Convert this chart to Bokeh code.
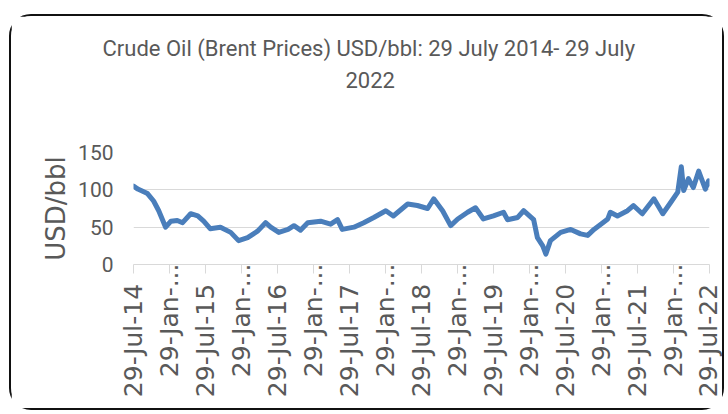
import pandas as pd
from math import pi
from bokeh.plotting import figure
from bokeh.models import Range1d, FixedTicker, Title, LinearAxis
from bokeh.embed import file_html
from bokeh.resources import INLINE

# ---------------- data ----------------
dates = [
    "2014-07-29", "2014-08-20", "2014-10-08", "2014-11-08", "2014-12-04", "2015-01-08",
    "2015-02-04", "2015-03-08", "2015-04-04", "2015-05-15", "2015-06-20", "2015-07-20",
    "2015-08-22", "2015-10-13", "2015-12-04", "2016-01-13", "2016-02-28", "2016-04-20",
    "2016-05-29", "2016-06-24", "2016-08-04", "2016-09-20", "2016-10-20", "2016-11-22",
    "2016-12-29", "2017-03-04", "2017-04-24", "2017-05-29", "2017-06-22", "2017-08-20",
    "2017-10-09", "2017-11-29", "2018-01-29", "2018-03-08", "2018-05-20", "2018-07-08",
    "2018-08-29", "2018-09-29", "2018-11-13", "2018-12-24", "2019-01-29", "2019-03-20",
    "2019-04-29", "2019-06-08", "2019-07-29", "2019-09-18", "2019-10-08", "2019-11-29",
    "2019-12-29", "2020-02-18", "2020-03-08", "2020-04-04", "2020-04-20", "2020-05-13",
    "2020-07-04", "2020-08-24", "2020-10-13", "2020-11-18", "2020-12-20", "2021-02-28",
    "2021-03-13", "2021-04-18", "2021-06-08", "2021-07-08", "2021-08-22", "2021-10-20",
    "2021-12-04", "2022-01-13", "2022-02-18", "2022-03-08", "2022-03-20", "2022-04-13",
    "2022-05-08", "2022-06-04", "2022-07-08", "2022-07-24", "2022-07-29",
]
prices = [
    105, 101, 95, 85, 72, 50,
    58, 59, 56, 68, 65, 58,
    48, 50, 43, 32, 36, 45,
    56, 50, 43, 47, 52, 46,
    56, 58, 54, 60, 47, 50,
    56, 63, 72, 65, 81, 79,
    75, 88, 72, 52, 61, 70,
    76, 61, 65, 70, 60, 63,
    72, 60, 36, 25, 14, 32,
    43, 47, 41, 39, 47, 61,
    70, 65, 72, 79, 68, 88,
    68, 83, 97, 131, 99, 115,
    103, 125, 101, 112, 108,
]

tick_dates = [
    "2014-07-29", "2015-01-29", "2015-07-29", "2016-01-29", "2016-07-29", "2017-01-29",
    "2017-07-29", "2018-01-29", "2018-07-29", "2019-01-29", "2019-07-29", "2020-01-29",
    "2020-07-29", "2021-01-29", "2021-07-29", "2022-01-29", "2022-07-29",
]
tick_labels = [
    "29-Jul-14", "29-Jan-...", "29-Jul-15", "29-Jan-...", "29-Jul-16", "29-Jan-...",
    "29-Jul-17", "29-Jan-...", "29-Jul-18", "29-Jan-...", "29-Jul-19", "29-Jan-...",
    "29-Jul-20", "29-Jan-...", "29-Jul-21", "29-Jan-...", "29-Jul-22",
]
y_ticks = [0, 50, 100, 150]
title_lines = ["Crude Oil (Brent Prices) USD/bbl:  29 July 2014- 29 July", "2022"]
y_label = "USD/bbl"

# ---------------- styling constants ----------------
GREY = "#595959"
GRID = "#d9d9d9"
BLUE = "#4a7ebb"
TFONT = "Roboto"
W, H = 715, 396
JUL_PAD = "\u2002\u00a0"   # pushes the full "Jul" labels further from the axis


def ms(d):
    return pd.Timestamp(d).value / 1e6


x_vals = [ms(d) for d in dates]
tick_ms = [ms(d) for d in tick_dates]

p = figure(
    width=W, height=H, output_backend="svg", toolbar_location=None,
    x_axis_type="datetime",
    x_range=Range1d(tick_ms[0], tick_ms[-1]),
    y_range=Range1d(0, 150),
    min_border_left=122, min_border_right=17, min_border_top=136, min_border_bottom=148,
    styles={"border": "2px solid #111111", "border-radius": "22px",
            "margin-top": "14px", "margin-left": "9px"},
)
p.outline_line_color = None
p.background_fill_color = "white"
p.border_fill_color = "white"

# invisible spacer axis between the plot area and the title lines
spacer = LinearAxis(ticker=FixedTicker(ticks=[tick_ms[0]]), axis_line_color=None,
                    major_tick_line_color=None, minor_tick_line_color=None,
                    major_tick_out=60, major_tick_in=0, major_label_standoff=0,
                    major_label_overrides={tick_ms[0]: ""},
                    major_label_text_font_size="1px")
p.add_layout(spacer, "above")

# two-line title
p.title.text = title_lines[0]
p.title.align = "left"
p.title.offset = -31
p.title.text_font = TFONT
p.title.text_font_size = "22px"
p.title.text_font_style = "normal"
p.title.text_color = GREY
p.title.standoff = 8
p.add_layout(Title(text=title_lines[1], align="left", offset=212, text_font=TFONT,
                   text_font_size="22px", text_font_style="normal",
                   text_color=GREY, standoff=10), "above")

# grid
p.xgrid.grid_line_color = None
p.ygrid.grid_line_color = GRID
p.ygrid.grid_line_width = 1
p.ygrid.ticker = FixedTicker(ticks=y_ticks)

# x axis
xa = p.below[0]
xa.ticker = FixedTicker(ticks=tick_ms)
xa.major_label_overrides = {
    t: (l + JUL_PAD if "Jul" in l else l) for t, l in zip(tick_ms, tick_labels)
}
xa.major_label_orientation = pi / 2
xa.major_label_text_font = "DejaVu Sans"
xa.major_label_text_font_size = "25px"
xa.major_label_text_color = GREY
xa.major_label_standoff = -10
xa.axis_line_color = GRID
xa.major_tick_line_color = GRID
xa.major_tick_out = 9
xa.major_tick_in = 0
xa.minor_tick_line_color = None

# y axis
ya = p.left[0]
ya.ticker = FixedTicker(ticks=y_ticks)
ya.axis_line_color = None
ya.major_tick_line_color = None
ya.minor_tick_line_color = None
ya.major_label_text_font = TFONT
ya.major_label_text_font_size = "21px"
ya.major_label_text_color = GREY
ya.major_label_standoff = 14
ya.axis_label = y_label
ya.axis_label_text_font = "DejaVu Sans"
ya.axis_label_text_font_size = "26px"
ya.axis_label_text_font_style = "normal"
ya.axis_label_text_color = GREY
ya.axis_label_standoff = 4

# price line
p.line(x_vals, prices, line_width=5, line_color=BLUE,
       line_join="round", line_cap="round")

open("out.html", "w").write(file_html(p, INLINE))
